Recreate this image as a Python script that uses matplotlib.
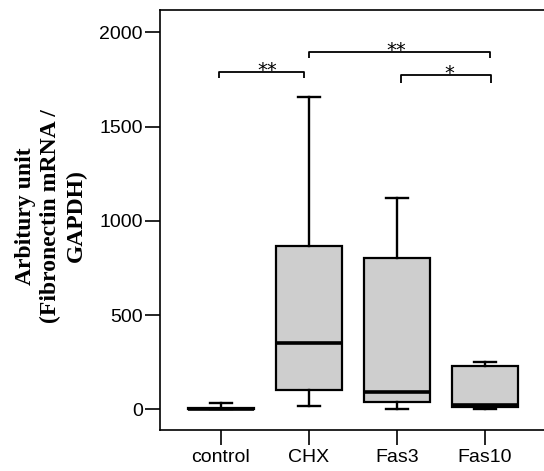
import matplotlib
matplotlib.use("Agg")
import matplotlib.pyplot as plt

# ---- data ----
categories = ["control", "CHX", "Fas3", "Fas10"]
whisker_low = [0, 17, 3, 3]
q1 = [0, 102, 37, 14]
median = [2, 350, 90, 24]
q3 = [6, 866, 803, 229]
whisker_high = [32, 1659, 1123, 249]

yticks = [0, 500, 1000, 1500, 2000]
ylabel = "Arbitury unit\n(Fibronectin mRNA /\nGAPDH)"

# significance brackets
brackets_x1 = [-0.02, 1.0, 2.04]
brackets_x2 = [0.94, 3.06, 3.07]
brackets_y = [1788, 1898, 1776]
brackets_tip = [1758, 1864, 1730]
brackets_label = ["**", "**", "*"]
brackets_label_x = [0.52, 1.99, 2.6]

fig = plt.figure(figsize=(5.44, 4.71), dpi=100)
ax = fig.add_axes([160/544, (471-430)/471, (546-160)/544, (430-10)/471])

stats = []
for i, c in enumerate(categories):
    stats.append(dict(label=c, whislo=whisker_low[i], q1=q1[i], med=median[i],
                      q3=q3[i], whishi=whisker_high[i], fliers=[]))

pos = list(range(len(categories)))
ax.bxp(stats, positions=pos, widths=0.76, patch_artist=True, showfliers=False,
       boxprops=dict(facecolor="#cecece", edgecolor="black", linewidth=1.6),
       medianprops=dict(color="black", linewidth=2.6),
       whiskerprops=dict(color="black", linewidth=1.7),
       capprops=dict(color="black", linewidth=1.7),
       capwidths=0.25)

for x1, x2, y, t, lab, lx in zip(brackets_x1, brackets_x2, brackets_y,
                                 brackets_tip, brackets_label, brackets_label_x):
    ax.plot([x1, x1, x2, x2], [t, y, y, t], color="black", linewidth=1.3,
            solid_capstyle="butt")
    ax.text(lx, y - 42, lab, ha="center", va="bottom", fontsize=14,
            family="DejaVu Sans", color="black")

ax.set_xlim(-0.693, 3.693)
ax.set_ylim(-110, 2119)
ax.set_yticks(yticks)
ax.set_xticks(pos)
ax.set_xticklabels(categories)

for lbl in ax.get_xticklabels() + ax.get_yticklabels():
    lbl.set_fontfamily("Liberation Sans")
    lbl.set_fontsize(14)

ax.tick_params(axis="y", direction="out", length=11, width=1.2, pad=1.5)
ax.tick_params(axis="x", direction="out", length=11, width=1.2, pad=2.5)
for s in ax.spines.values():
    s.set_linewidth(1.2)
ax.spines["right"].set_visible(False)

fig.text(51/544, (471-216)/471, ylabel, rotation=90, ha="center", va="center",
         fontsize=17, fontweight="bold", family="Liberation Serif",
         linespacing=1.25, multialignment="center")

fig.savefig("out.png", dpi=100)
